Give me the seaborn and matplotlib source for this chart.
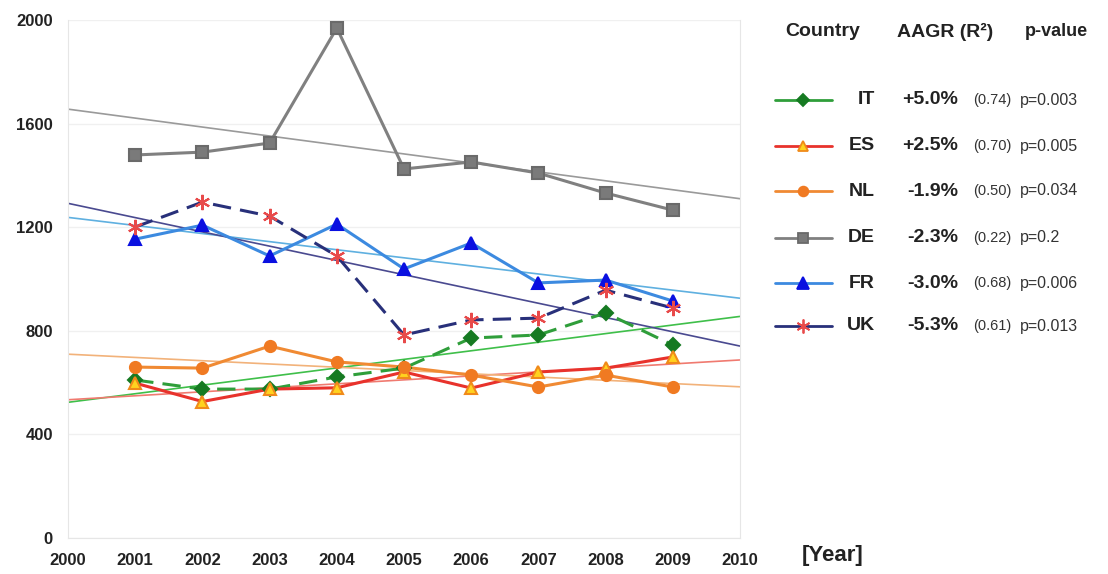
import numpy as np
import pandas as pd
import matplotlib
matplotlib.use("Agg")
import matplotlib.pyplot as plt
from matplotlib.lines import Line2D
import seaborn as sns

# data
years = [2001, 2002, 2003, 2004, 2005, 2006, 2007, 2008, 2009]
countries = ["IT", "ES", "NL", "DE", "FR", "UK"]
it_vals = [610, 575, 575, 622, 656, 772, 784, 869, 745]
es_vals = [598, 527, 575, 580, 641, 579, 641, 656, 699]
nl_vals = [660, 656, 741, 680, 660, 629, 583, 629, 583]
de_vals = [1479, 1490, 1525, 1969, 1425, 1452, 1409, 1332, 1266]
fr_vals = [1154, 1208, 1089, 1212, 1039, 1139, 985, 996, 915]
uk_vals = [1201, 1297, 1243, 1089, 784, 842, 849, 957, 888]
aagr = ["+5.0%", "+2.5%", "-1.9%", "-2.3%", "-3.0%", "-5.3%"]
r2 = ["(0.74)", "(0.70)", "(0.50)", "(0.22)", "(0.68)", "(0.61)"]
pvals = ["p=0.003", "p=0.005", "p=0.034", "p=0.2", "p=0.006", "p=0.013"]

series = dict(zip(countries, [it_vals, es_vals, nl_vals, de_vals, fr_vals, uk_vals]))

# style per country: line colour, dash, marker, marker face, marker edge, trend colour
styles = {
    "IT": dict(c="#2f9e3a", ls=(0, (6, 3)), m="D", mfc="#167a22", mec="#167a22", ms=7, tc="#3fbf4a"),
    "ES": dict(c="#e8322c", ls="-", m="^", mfc="#ffd21f", mec="#f08a1a", ms=8, tc="#f07a70"),
    "NL": dict(c="#f08a33", ls="-", m="o", mfc="#f07a22", mec="#f07a22", ms=8, tc="#f2b27a"),
    "DE": dict(c="#808080", ls="-", m="s", mfc="#7a7a7a", mec="#6a6a6a", ms=8, tc="#9a9a9a"),
    "FR": dict(c="#3c8ae0", ls="-", m="^", mfc="#0a10e0", mec="#0a10e0", ms=9, tc="#5fb0e0"),
    "UK": dict(c="#28307a", ls=(0, (6, 3)), m=(6, 2, 0), mfc="#e84a4a", mec="#e84a4a", ms=11, tc="#4a4a90"),
}

sns.set_style("white")
plt.rcParams["font.family"] = ["Liberation Sans", "DejaVu Sans"]

fig = plt.figure(figsize=(11.08, 5.74), dpi=100)
ax = fig.add_axes([0.0614, 0.0627, 0.6065, 0.9024])
ax.set_xlim(2000, 2010)
ax.set_ylim(0, 2000)

# trend lines first (thin, through whole x-range)
for k in countries:
    st = styles[k]
    sns.regplot(x=np.array(years), y=np.array(series[k]), ax=ax, scatter=False, ci=None,
                truncate=False, line_kws=dict(color=st["tc"], lw=1.2, zorder=2))

for k in countries:
    st = styles[k]
    df = pd.DataFrame({"year": years, "value": series[k]})
    sns.lineplot(data=df, x="year", y="value", ax=ax, color=st["c"], lw=2.2, zorder=3)
    ax.lines[-1].set_linestyle(st["ls"])
    ax.plot(years, series[k], ls="none", marker=st["m"], ms=st["ms"], mfc=st["mfc"],
            mec=st["mec"], mew=1.5, zorder=4)

ax.set_xlim(2000, 2010)
ax.set_ylim(0, 2000)
ax.set_xticks(range(2000, 2011))
ax.set_yticks(range(0, 2001, 400))
ax.set_xticklabels([str(y) for y in range(2000, 2011)], fontweight="bold", fontsize=12, color="#222222")
ax.set_yticklabels([str(v) for v in range(0, 2001, 400)], fontweight="bold", fontsize=12, color="#222222")
ax.tick_params(axis="x", length=0, pad=11)
ax.tick_params(axis="y", length=0, pad=11)
ax.set_xlabel("")
ax.set_ylabel("")
ax.yaxis.grid(True, color="#f0f0f0", lw=1)
for s in ["left", "bottom", "right"]:
    ax.spines[s].set_color("#e6e6e6")
ax.spines["top"].set_visible(False)

fig.text(802 / 1108, 1 - 556 / 574, "[Year]", fontsize=16, fontweight="bold", va="center", ha="left",
         color="#222222")

# header of the legend table
hy = 1 - 32 / 574
fig.text(785 / 1108, hy, "Country", fontsize=14, fontweight="bold", va="center", color="#222222")
fig.text(897 / 1108, hy, "AAGR (R²)", fontsize=14, fontweight="bold", va="center", color="#222222")
fig.text(1025 / 1108, hy, "p-value", fontsize=13, fontweight="bold", va="center", color="#222222")

row_y = [100, 146, 191, 238, 283, 326]
for i, k in enumerate(countries):
    st = styles[k]
    yy = 1 - row_y[i] / 574
    fig.add_artist(Line2D([775 / 1108, 832 / 1108], [yy, yy], color=st["c"], lw=2,
                          transform=fig.transFigure))
    fig.add_artist(Line2D([803 / 1108], [yy], ls="none", marker=st["m"], ms=st["ms"] - 1,
                          mfc=st["mfc"], mec=st["mec"], mew=1.3, transform=fig.transFigure))
    fig.text(875 / 1108, yy, k, fontsize=14, fontweight="bold", ha="right", va="center", color="#222222")
    fig.text(958 / 1108, yy, aagr[i], fontsize=14, fontweight="bold", ha="right", va="center", color="#222222")
    fig.text(973 / 1108, yy, r2[i], fontsize=10.5, ha="left", va="center", color="#333333")
    fig.text(1020 / 1108, yy, pvals[i], fontsize=11.5, ha="left", va="center", color="#333333")

fig.savefig("out.png", dpi=100, facecolor="white")
